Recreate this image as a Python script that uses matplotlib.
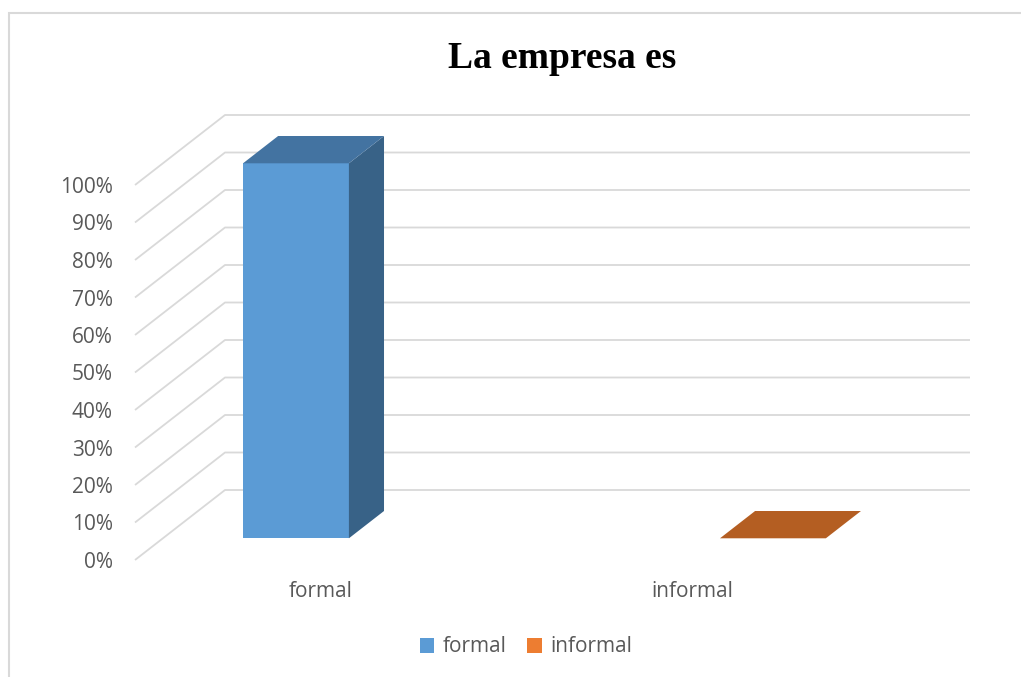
import matplotlib.pyplot as plt
from matplotlib.patches import Polygon, Patch, Rectangle

categories = ["formal", "informal"]
values = [100, 0]
y_ticks = [0, 10, 20, 30, 40, 50, 60, 70, 80, 90, 100]
y_tick_labels = [f"{v}%" for v in y_ticks]

FRONT_COLORS = ["#5B9BD5", "#ED7D31"]
TOP_COLORS = ["#4373A1", "#B45E22"]
SIDE_COLORS = ["#386287", "#9A4F1C"]
GRID_COLOR = "#D9D9D9"
TEXT_COLOR = "#595959"

W_PX, H_PX = 1021, 677
# plot area in pixels (front plane of the floor)
AX_LEFT, AX_BOTTOM, AX_W, AX_H = 135, 117, 745, 375
XLIM = (-0.279, 1.283)
DEPTH_PX = (90, 70)          # full floor depth as pixel offset
BAR_DEPTH = (0.31, 0.70)     # bar front/back as fraction of floor depth
BAR_WIDTH = 0.222
LABEL_SPREAD = 0.778         # perspective squeeze of category labels
LABEL_SIZE = 15

fig = plt.figure(figsize=(W_PX / 100, H_PX / 100), dpi=100)
ax = fig.add_axes([AX_LEFT / W_PX, AX_BOTTOM / H_PX, AX_W / W_PX, AX_H / H_PX])
ax.set_xlim(*XLIM)
ax.set_ylim(0, 100)

# depth offsets in data units
dx = DEPTH_PX[0] * (XLIM[1] - XLIM[0]) / AX_W
dy = DEPTH_PX[1] * 100 / AX_H


def shift(x, y, f):
    return (x + f * dx, y + f * dy)


# gridlines: diagonal on the side wall, horizontal on the back wall
for v in y_ticks:
    pts = [shift(XLIM[0], v, 0), shift(XLIM[0], v, 1), shift(XLIM[1], v, 1)]
    ax.plot([p[0] for p in pts], [p[1] for p in pts], color=GRID_COLOR,
            lw=1.3, clip_on=False, zorder=1, solid_capstyle="butt")

f0, f1 = BAR_DEPTH
for i, v in enumerate(values):
    x0, x1 = i - BAR_WIDTH / 2, i + BAR_WIDTH / 2
    if v > 0:
        front = [shift(x0, 0, f0), shift(x1, 0, f0), shift(x1, v, f0), shift(x0, v, f0)]
        side = [shift(x1, 0, f0), shift(x1, 0, f1), shift(x1, v, f1), shift(x1, v, f0)]
        ax.add_patch(Polygon(front, closed=True, facecolor=FRONT_COLORS[i],
                             edgecolor="none", clip_on=False, zorder=3))
        ax.add_patch(Polygon(side, closed=True, facecolor=SIDE_COLORS[i],
                             edgecolor="none", clip_on=False, zorder=3))
    top = [shift(x0, v, f0), shift(x1, v, f0), shift(x1, v, f1), shift(x0, v, f1)]
    ax.add_patch(Polygon(top, closed=True, facecolor=TOP_COLORS[i],
                         edgecolor="none", clip_on=False, zorder=3))

ax.set_yticks(y_ticks)
ax.set_yticklabels(y_tick_labels)
mid = (len(categories) - 1) / 2
ax.set_xticks([mid + (i - mid) * LABEL_SPREAD for i in range(len(categories))])
ax.set_xticklabels(categories)
ax.tick_params(length=0, labelcolor=TEXT_COLOR, labelsize=LABEL_SIZE)
ax.tick_params(axis="y", pad=16)
ax.tick_params(axis="x", pad=15)
for lbl in ax.get_xticklabels() + ax.get_yticklabels():
    lbl.set_fontfamily("Open Sans")
for s in ax.spines.values():
    s.set_visible(False)
ax.set_facecolor("none")

fig.text(562 / W_PX, 1 - 68 / H_PX, "La empresa es", ha="center", va="baseline",
         fontsize=27, fontweight="bold", family="Liberation Serif", color="black")

handles = [Patch(facecolor=c, edgecolor="none", label=n)
           for c, n in zip(FRONT_COLORS, categories)]
fig.legend(handles=handles, loc="center", bbox_to_anchor=(526 / W_PX, 30 / H_PX),
           ncol=2, frameon=False, handlelength=0.7, handleheight=0.7,
           handletextpad=0.4, columnspacing=1.0,
           prop={"family": "Open Sans", "size": LABEL_SIZE}, labelcolor=TEXT_COLOR)

fig.patches.append(Rectangle((9 / W_PX, -0.1), 1.2, 1.1 - 13 / H_PX,
                             transform=fig.transFigure, fill=False,
                             edgecolor=GRID_COLOR, lw=1.5))

fig.savefig("out.png", dpi=100)
